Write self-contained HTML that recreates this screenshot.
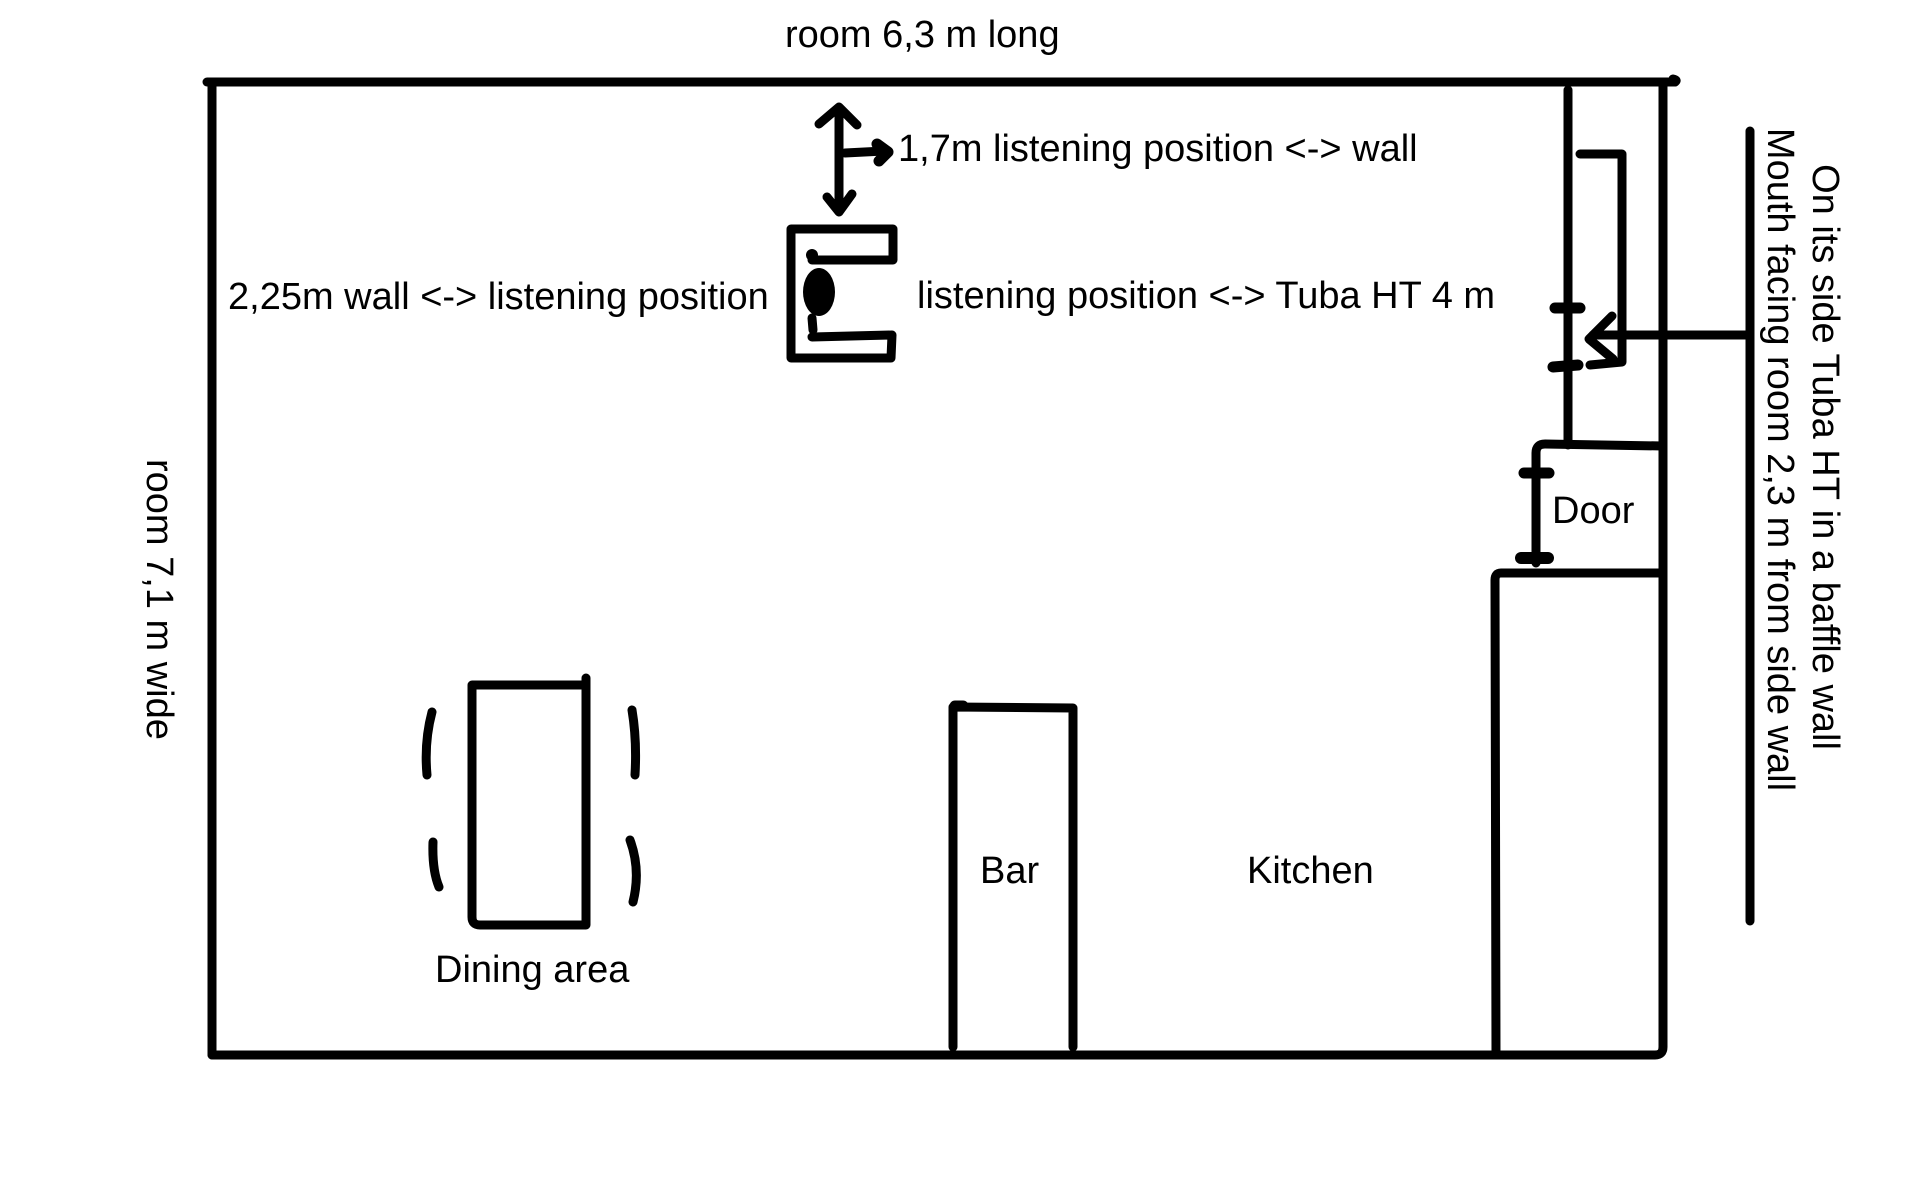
<!DOCTYPE html>
<html>
<head>
<meta charset="utf-8">
<style>
  html, body { margin: 0; padding: 0; background: #ffffff; }
  body { width: 1920px; height: 1200px; overflow: hidden; }
  svg { display: block; }
  text { font-family: "Liberation Sans", Arial, sans-serif; font-size: 38px; fill: #000; }
</style>
</head>
<body>
<svg width="1920" height="1200" viewBox="0 0 1920 1200" xmlns="http://www.w3.org/2000/svg">
  <rect x="0" y="0" width="1920" height="1200" fill="#ffffff"/>
  <g fill="none" stroke="#000" stroke-width="9" stroke-linecap="round" stroke-linejoin="round">
    <!-- outer walls -->
    <path d="M207,82 L1675,82"/>
    <path d="M1675,82 Q1678,80 1673,79"/>
    <path d="M212,82 L212,1055"/>
    <path d="M212,1055 L1655,1055 Q1663,1055 1663,1047 L1663,82"/>

    <!-- double arrow listening position <-> wall -->
    <path d="M839,108 L839,211"/>
    <path d="M819,124 L839,107 L857,125"/>
    <path d="M827,197 L839,212 L852,194"/>
    <!-- small pointer arrow -->
    <path d="M845,153 L884,151"/>
    <path d="M877,144 L888,152 L879,161" stroke-width="11"/>

    <!-- listening chair -->
    <path d="M812,260 L893,260 L893,229 L791,229 L791,358 L891,358 L892,335 L812,337"/>
    <path d="M812,318 L813,330"/>

    <!-- inner wall line right -->
    <path d="M1568,90 L1568,445"/>
    <!-- ticks on inner wall -->
    <path d="M1555,308 L1580,308" stroke-width="11"/>
    <path d="M1553,367 L1578,365" stroke-width="11"/>
    <!-- bracket (Tuba) -->
    <path d="M1580,154 L1622,154 L1622,362 L1590,365"/>
    <!-- Tuba arrow -->
    <path d="M1750,335 L1593,335"/>
    <path d="M1612,316 L1589,339 L1613,359"/>
    <!-- long vertical line right -->
    <path d="M1750,131 L1750,921"/>

    <!-- door -->
    <path d="M1663,446 L1545,444 Q1536,444 1536,453 L1536,563"/>
    <path d="M1524,473 L1549,473" stroke-width="11"/>
    <path d="M1521,558 L1548,558" stroke-width="12"/>
    <path d="M1663,573 L1501,573 Q1495,573 1495,580 L1496,1055"/>

    <!-- dining table -->
    <path d="M586,678 L586,925 L480,925 Q472,925 472,917 L472,685 L586,685"/>
    <!-- chairs -->
    <path d="M432,712 Q424,742 427,775"/>
    <path d="M433,842 Q432,870 439,887"/>
    <path d="M632,710 Q637,740 635,775"/>
    <path d="M630,840 Q641,870 633,902"/>

    <!-- bar -->
    <path d="M953,1047 L953,707 L1073,708 L1073,1047"/>
    <path d="M955,706 L963,706" stroke-width="11"/>
  </g>

  <!-- head -->
  <ellipse cx="819" cy="292" rx="16" ry="24" fill="#000"/>
  <circle cx="812" cy="255" r="6" fill="#000"/>

  <!-- labels -->
  <text x="785" y="47">room 6,3 m long</text>
  <text x="898" y="161">1,7m listening position &lt;-&gt; wall</text>
  <text x="228" y="309">2,25m wall &lt;-&gt; listening position</text>
  <text x="917" y="308">listening position &lt;-&gt; Tuba HT 4 m</text>
  <text x="1552" y="523">Door</text>
  <text x="435" y="982">Dining area</text>
  <text x="980" y="883">Bar</text>
  <text x="1247" y="883">Kitchen</text>

  <text transform="translate(147,459) rotate(90)">room 7,1 m wide</text>
  <text transform="translate(1813,457) rotate(90)" text-anchor="middle">On its side Tuba HT in a baffle wall</text>
  <text transform="translate(1768,459.5) rotate(90)" text-anchor="middle">Mouth facing room 2,3 m from side wall</text>
</svg>
</body>
</html>
